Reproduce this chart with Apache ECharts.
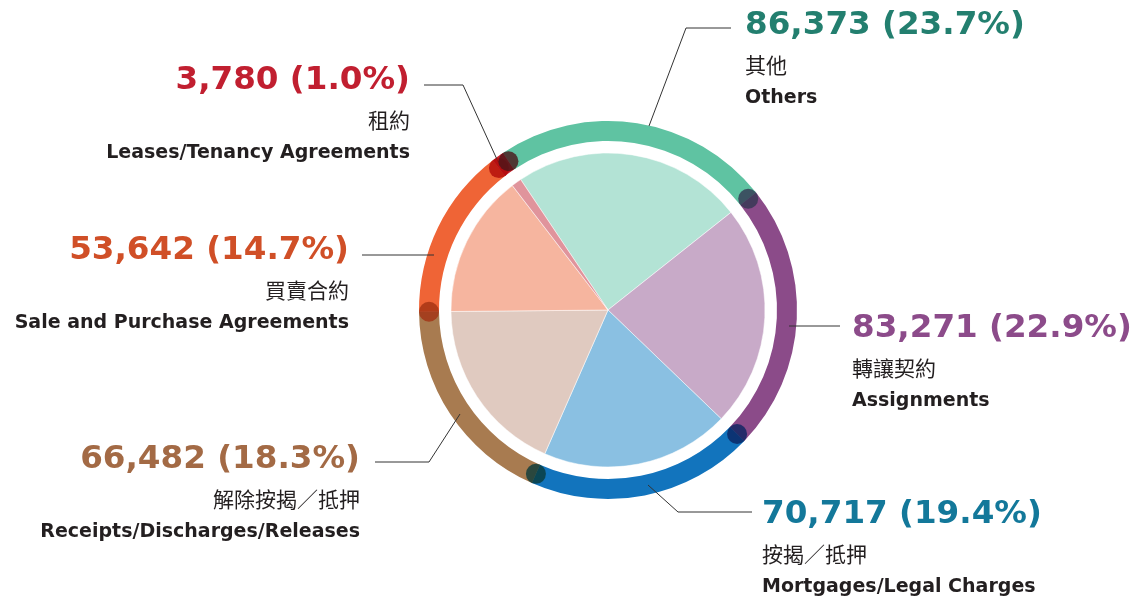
<!DOCTYPE html>
<html>
<head>
<meta charset="utf-8">
<script src="https://cdn.jsdelivr.net/npm/echarts@6/dist/echarts.min.js"></script>
<style>
  html, body { margin: 0; padding: 0; background: #fff; }
  #chartDeeds { width: 1139px; height: 596px; }
</style>
</head>
<body>
<div id="chartDeeds"></div>
<script>
// 契約類別（順時針，由「其他」開始）
var namesZh = ['其他', '轉讓契約', '按揭／抵押', '解除按揭／抵押', '買賣合約', '租約'];
var namesEn = ['Others', 'Assignments', 'Mortgages/Legal Charges', 'Receipts/Discharges/Releases', 'Sale and Purchase Agreements', 'Leases/Tenancy Agreements'];
var values = [86373, 83271, 70717, 66482, 53642, 3780];
var percents = ['23.7', '22.9', '19.4', '18.3', '14.7', '1.0'];

var pieColors = ['#b3e3d5', '#c8aac8', '#8ac0e2', '#e0cac0', '#f6b59f', '#e0949c'];
var ringColors = ['#5fc3a2', '#8b4b89', '#1274bd', '#a87b50', '#ef6436', '#c8202a'];
var numColors = ['#237f6f', '#8c4b8a', '#13789a', '#a36a45', '#d04f27', '#c11f30'];
// 每段起點的圓點
var dotColors = ['#4a1619', '#333752', '#0b2461', '#0a3b3a', '#a33213', '#b10a0a'];

var total = 0;
var starts = [];
values.forEach(function(v) {
  starts.push(total);
  total += v;
});

function fmtNum(v) {
  return v.toString().replace(/\B(?=(\d{3})+(?!\d))/g, ',');
}

var CENTER = [608, 310];
var START = 123.8;

// label placement (top of text block) + leader lines
var labelPos = [
  { x: 745, y: 4, align: 'left', line: [[649, 126], [686, 28], [731, 28]] },
  { x: 852, y: 307, align: 'left', line: [[789, 326], [840, 326]] },
  { x: 762, y: 493, align: 'left', line: [[648, 485], [678, 512], [752, 512]] },
  { x: 360, y: 438, align: 'right', line: [[460, 414], [429, 462], [375, 462]] },
  { x: 349, y: 229, align: 'right', line: [[434, 255], [362, 255]] },
  { x: 410, y: 59, align: 'right', line: [[500, 166], [463, 85], [424, 85]] }
];

var rich = {};
['L', 'R'].forEach(function(s) {
  var al = s === 'L' ? 'left' : 'right';
  rich['zh' + s] = { fontFamily: 'Noto Sans CJK TC', fontSize: 21, color: '#231f20', lineHeight: 34, align: al };
  rich['en' + s] = { fontFamily: 'DejaVu Sans', fontWeight: 'bold', fontSize: 19, color: '#231f20', lineHeight: 32, align: al };
  numColors.forEach(function(c, i) {
    rich['n' + i + s] = { fontFamily: 'DejaVu Sans', fontWeight: 'bold', fontSize: 32.6, color: c, lineHeight: 44, align: al };
  });
});

var chartDeeds = echarts.init(document.getElementById('chartDeeds'));
var option = {
  animation: false,
  polar: { center: CENTER, radius: 179 },
  angleAxis: {
    type: 'value', min: 0, max: total, startAngle: START, clockwise: true, show: false
  },
  radiusAxis: { type: 'value', min: 0, max: 1, show: false },
  series: [
    {
      // 外環
      type: 'pie',
      z: 2,
      center: CENTER,
      radius: [169, 189],
      startAngle: START,
      silent: true,
      label: { show: false },
      labelLine: { show: false },
      data: values.map(function(v, i) {
        return { value: v, name: namesEn[i], itemStyle: { color: ringColors[i] } };
      })
    },
    {
      // 內餅 + 標籤
      type: 'pie',
      z: 3,
      center: CENTER,
      radius: [0, 157],
      startAngle: START,
      silent: true,
      avoidLabelOverlap: false,
      itemStyle: { borderColor: '#fff', borderWidth: 0.5 },
      label: {
        show: true,
        position: 'outside',
        formatter: function(p) {
          var i = p.dataIndex;
          var s = labelPos[i].align === 'left' ? 'L' : 'R';
          return '{n' + i + s + '|' + fmtNum(values[i]) + ' (' + percents[i] + '%)}\n' +
            '{zh' + s + '|' + namesZh[i] + '}\n{en' + s + '|' + namesEn[i] + '}';
        },
        rich: rich
      },
      labelLine: { show: true, lineStyle: { color: '#333', width: 1 } },
      labelLayout: function(params) {
        var p = labelPos[params.dataIndex];
        return {
          x: p.x,
          y: p.y,
          align: p.align,
          verticalAlign: 'top',
          labelLinePoints: p.line
        };
      },
      data: values.map(function(v, i) {
        return { value: v, name: namesEn[i], itemStyle: { color: pieColors[i] } };
      })
    },
    {
      type: 'scatter',
      z: 4,
      coordinateSystem: 'polar',
      symbolSize: 20,
      silent: true,
      data: starts.map(function(s, i) {
        return { value: [1, s], itemStyle: { color: dotColors[i] } };
      }).reverse()
    }
  ]
};
chartDeeds.setOption(option);
</script>
</body>
</html>
